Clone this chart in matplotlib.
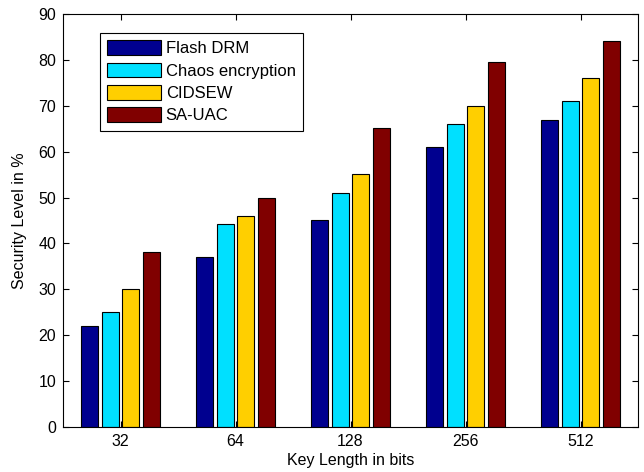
import matplotlib.pyplot as plt
import numpy as np

plt.rcParams['font.family'] = ['Liberation Sans', 'DejaVu Sans']
plt.rcParams['font.size'] = 11.5

# ------------------ DATA -----------------------------------------
key_lengths = ['32', '64', '128', '256', '512']
series_names = ['Flash DRM', 'Chaos encryption', 'CIDSEW', 'SA-UAC']

flash_drm = [22, 37, 45, 61, 67]
chaos_enc = [25, 44.2, 51, 66, 71]
cidsew = [30, 46, 55.2, 70, 76]
sa_uac = [38.1, 50, 65.2, 79.5, 84.2]
# -----------------------------------------------------------------

colors = ['#00008F', '#00E0FF', '#FFCF00', '#800000']
offsets = [-0.27, -0.09, 0.09, 0.27]

fig = plt.figure(figsize=(6.44, 4.72), dpi=100)
ax = fig.add_axes([63/644, 45/472, 575/644, 413/472])

x = np.arange(1, len(key_lengths) + 1)
for vals, name, c, off in zip([flash_drm, chaos_enc, cidsew, sa_uac], series_names, colors, offsets):
    ax.bar(x + off, vals, width=0.15, color=c, edgecolor='black', linewidth=0.8, label=name)

ax.set_xlim(0.5, 5.5)
ax.set_ylim(0, 90)
ax.set_xticks(x)
ax.set_xticklabels(key_lengths)
ax.set_yticks(range(0, 91, 10))
ax.tick_params(direction='in', top=True, right=True, length=4, labelsize=11.5, pad=5)
ax.set_xlabel('Key Length in bits', fontsize=11.5, labelpad=3)
ax.set_ylabel('Security Level in %', fontsize=11.5, labelpad=8)

leg = ax.legend(loc='upper left', bbox_to_anchor=(0.064, 0.954), borderaxespad=0,
                fancybox=False, framealpha=1, edgecolor='black', fontsize=12,
                handlelength=3.2, handleheight=0.96, labelspacing=0.38,
                handletextpad=0.3, borderpad=0.45)
leg.get_frame().set_linewidth(0.8)

plt.savefig('out.png', dpi=100)
